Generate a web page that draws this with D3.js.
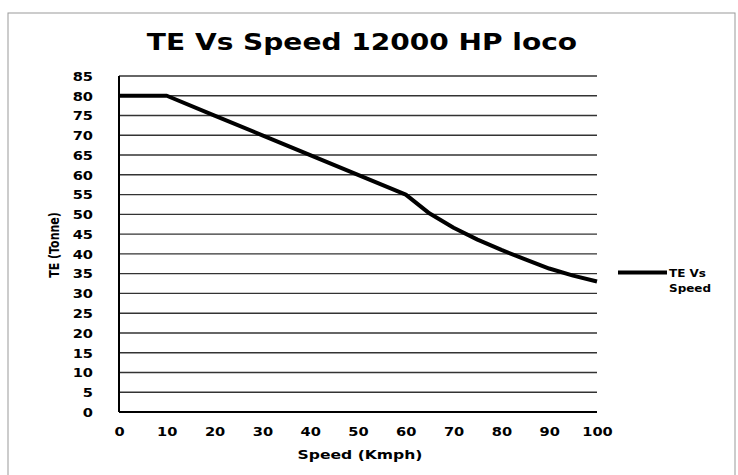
<!DOCTYPE html>
<html>
<head>
<meta charset="utf-8">
<script src="https://cdn.jsdelivr.net/npm/d3@7"></script>
<style>
  body { margin: 0; background: #fff; }
  text { font-family: "DejaVu Sans", Verdana, sans-serif; font-weight: bold; fill: #000; }
</style>
</head>
<body>
<div id="chart"></div>
<script>
(function () {

  // data
  var speeds = [0, 10, 20, 30, 40, 50, 60, 65, 70, 75, 80, 85, 90, 95, 100]
  var teValues = [80, 80, 75, 70, 65, 60, 55, 50.2, 46.6, 43.6, 41, 38.6, 36.3, 34.5, 33]
  var yTicks = [0, 5, 10, 15, 20, 25, 30, 35, 40, 45, 50, 55, 60, 65, 70, 75, 80, 85]
  var xTicks = [0, 10, 20, 30, 40, 50, 60, 70, 80, 90, 100]
  var seriesName = ["TE Vs", "Speed"]

  var width = 738, height = 475
  var margin = { top: 76, right: 141, bottom: 63, left: 119 }
  var stretch = 1.22   // the scanned picture is a bit wide

  var svg = d3.select("#chart").append("svg")
      .attr("width", width)
      .attr("height", height)

  // outer frame
  svg.append("rect")
      .attr("x", 8).attr("y", 13)
      .attr("width", 727).attr("height", 470)
      .attr("fill", "none")
      .attr("stroke", "#999")
      .attr("stroke-width", 1)

  var x = d3.scaleLinear()
      .domain([0, 100])
      .range([margin.left, width - margin.right])

  var y = d3.scaleLinear()
      .domain([0, 85])
      .range([height - margin.bottom, margin.top])

  // gridlines
  svg.selectAll(".grid")
    .data(yTicks)
    .enter().append("line")
    .attr("class", "grid")
    .attr("x1", x(0))
    .attr("x2", x(100))
    .attr("y1", function(d) { return y(d) })
    .attr("y2", function(d) { return y(d) })
    .attr("stroke", function(d) { return d === 0 ? "#000" : "#333" })
    .attr("stroke-width", function(d) { return d === 0 ? 2 : 1.4 })

  // y axis line
  svg.append("line")
      .attr("x1", x(0)).attr("x2", x(0))
      .attr("y1", y(0)).attr("y2", y(85))
      .attr("stroke", "#000")
      .attr("stroke-width", 2)

  var yAxis = svg.append("g")
      .attr("transform", "translate(" + (x(0) - 26) + ",0)")
      .call(d3.axisLeft(y).tickValues(yTicks).tickSize(0).tickPadding(0))
  yAxis.select(".domain").remove()
  yAxis.selectAll("text")
      .style("font-size", "12px")
      .attr("x", null)
      .attr("dy", "0.36em")
      .attr("transform", "scale(" + stretch + ",1)")

  var xAxis = svg.append("g")
      .attr("transform", "translate(0," + (y(0) + 15) + ")")
      .call(d3.axisBottom(x).tickValues(xTicks).tickSize(0).tickPadding(0))
  xAxis.select(".domain").remove()
  xAxis.selectAll("text")
      .style("font-size", "12px")
      .attr("transform", "scale(" + stretch + ",1)")

  // the series line
  var line = d3.line()
      .x(function(d, i) { return x(speeds[i]) })
      .y(function(d) { return y(d) })

  svg.append("path")
      .datum(teValues)
      .attr("d", line)
      .attr("fill", "none")
      .attr("stroke", "#000")
      .attr("stroke-width", 4)
      .attr("stroke-linejoin", "round")

  // title
  svg.append("text")
      .attr("transform", "translate(362,50) scale(" + stretch + ",1)")
      .attr("text-anchor", "middle")
      .style("font-size", "23px")
      .text("TE Vs Speed 12000 HP loco")

  // axis titles
  svg.append("text")
      .attr("transform", "translate(360,459) scale(1.3,1)")
      .attr("text-anchor", "middle")
      .style("font-size", "12px")
      .text("Speed (Kmph)")

  svg.append("text")
      .attr("transform", "translate(59,245) rotate(-90) scale(1,1.2)")
      .attr("text-anchor", "middle")
      .style("font-size", "11px")
      .text("TE (Tonne)")

  // legend
  svg.append("line")
      .attr("x1", 618).attr("x2", 667)
      .attr("y1", 272.5).attr("y2", 272.5)
      .attr("stroke", "#000")
      .attr("stroke-width", 4)

  svg.selectAll(".legend-label")
    .data(seriesName)
    .enter().append("text")
    .attr("class", "legend-label")
    .attr("transform", function(d, i) { return "translate(669," + (277 + i * 14.5) + ") scale(1.2,1)" })
    .style("font-size", "10px")
    .text(function(d) { return d })

})()
</script>
</body>
</html>
